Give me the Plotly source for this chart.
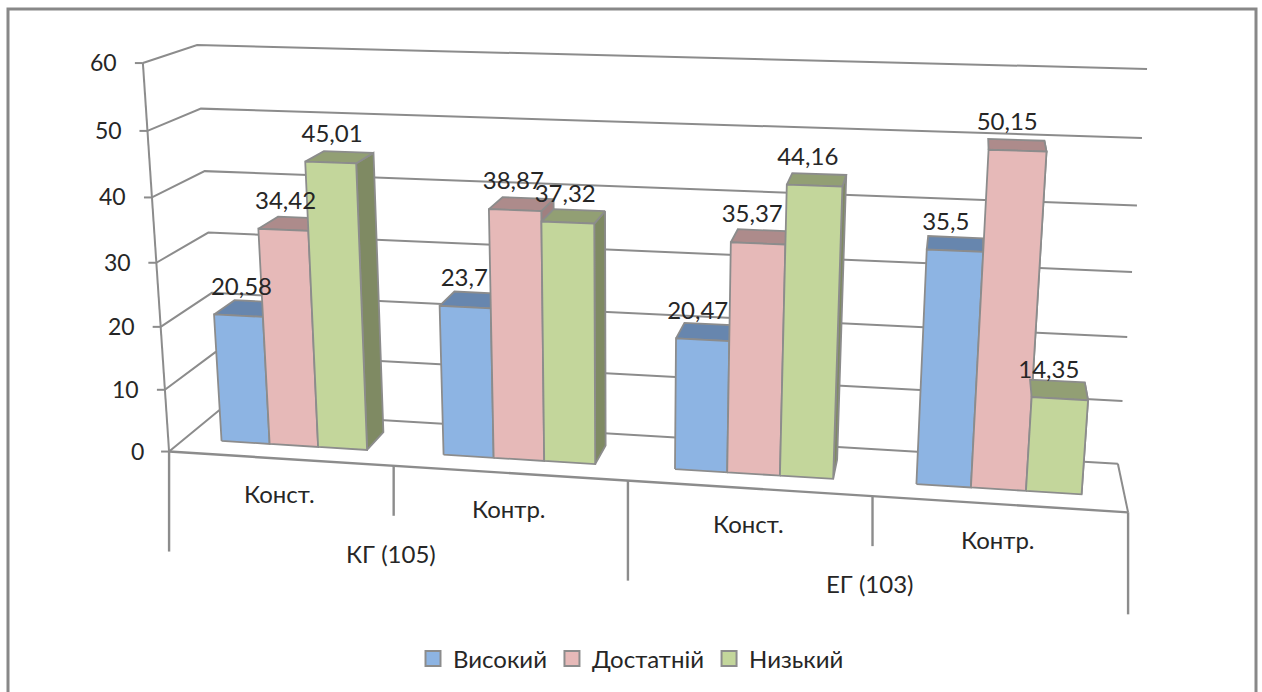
import numpy as np
import plotly.graph_objects as go

# Chart data
group_labels = ["КГ (105)", "ЕГ (103)"]
category_labels = ["Конст.", "Контр.", "Конст.", "Контр."]
series_names = ["Високий", "Достатній", "Низький"]
vysokyi = [20.58, 23.7, 20.47, 35.5]
dostatnii = [34.42, 38.87, 35.37, 50.15]
nyzkyi = [45.01, 37.32, 44.16, 14.35]
value_ticks = [0, 10, 20, 30, 40, 50, 60]

series_values = [vysokyi, dostatnii, nyzkyi]
front_colors = ["#8DB4E3", "#E6B9B8", "#C3D69B"]
top_colors = ["#6786AE", "#AD8B8B", "#929F74"]
side_colors = ["#5F7BA0", "#A08080", "#7F8A63"]
edge_color = "#8C8C8C"
grid_color = "#8C8C8C"
text_color = "#262626"
font_family = "Lato"
font_size = 24

# Camera: a projective map from (category, value, depth) to page pixels,
# solved from where the corners of the plot box land on the page.
box_corners = [
    ((0, 0, 0), (170, 451)), ((4, 0, 0), (1128, 513)),
    ((0, 0, 1), (218, 411)), ((4, 0, 1), (1118, 463)),
    ((0, 60, 0), (142, 63)), ((0, 60, 1), (198, 45)),
    ((4, 60, 1), (1147, 69)),
]


def solve_camera(pairs):
    rows, rhs = [], []
    for (a, b, c), (u, v) in pairs:
        rows.append([a, b, c, 1, 0, 0, 0, 0, -u * a, -u * b, -u * c])
        rows.append([0, 0, 0, 0, a, b, c, 1, -v * a, -v * b, -v * c])
        rhs += [u, v]
    sol = np.linalg.lstsq(np.array(rows, float), np.array(rhs, float), rcond=None)[0]
    return np.append(sol, 1.0).reshape(3, 4)


CAMERA = solve_camera(box_corners)


def project(points):
    pts = np.column_stack([np.asarray(points, float), np.ones(len(points))])
    out = pts @ CAMERA.T
    return out[:, 0] / out[:, 2], out[:, 1] / out[:, 2]


fig = go.Figure()


def add_line(points, width=2, color=grid_color):
    x, y = project(points)
    fig.add_trace(go.Scatter(x=x, y=y, mode="lines", hoverinfo="skip", showlegend=False,
                             line=dict(color=color, width=width)))


def add_face(points, fill):
    x, y = project(points + points[:1])
    fig.add_trace(go.Scatter(x=x, y=y, mode="lines", fill="toself", fillcolor=fill,
                             hoverinfo="skip", showlegend=False,
                             line=dict(color=edge_color, width=1.8)))


# Gridlines on the side wall and the back wall, plus the box edges
for v in value_ticks:
    add_line([(0, v, 0), (0, v, 1), (4, v, 1)])
add_line([(4, 0, 1), (4, 0, 0)])
add_line([(0, 0, 0), (0, 60, 0)])
add_line([(0, 0, 0), (4, 0, 0)], width=2.4)

# Value axis tick marks and labels
annotations = []
for v in value_ticks:
    px, py = project([(0, v, 0)])
    fig.add_trace(go.Scatter(x=[px[0] - 8, px[0]], y=[py[0], py[0]], mode="lines",
                             hoverinfo="skip", showlegend=False,
                             line=dict(color=grid_color, width=2)))
    annotations.append(dict(x=px[0] - 23.5, y=py[0] - 1, text=str(v), xanchor="right", yanchor="middle",
                            font_size=23))

# Category axis: hanging dividers and the two label levels
divider_drop = {0: 100, 1: 50, 2: 100, 3: 50, 4: 102}
for i, drop in divider_drop.items():
    px, py = project([(i, 0, 0)])
    fig.add_trace(go.Scatter(x=[px[0], px[0]], y=[py[0], py[0] + drop], mode="lines",
                             hoverinfo="skip", showlegend=False,
                             line=dict(color=grid_color, width=2.4)))
for i, label in enumerate(category_labels):
    a, b = project([(i, 0, 0), (i + 1, 0, 0)])
    annotations.append(dict(x=(a[0] + a[1]) / 2 - 2, y=(b[0] + b[1]) / 2 + 35, text=label,
                            xanchor="center", yanchor="middle"))
for i, label in enumerate(group_labels):
    a, b = project([(2 * i, 0, 0), (2 * i + 2, 0, 0)])
    annotations.append(dict(x=(a[0] + a[1]) / 2 - 8, y=(b[0] + b[1]) / 2 + 87, text=label,
                            xanchor="center", yanchor="middle"))

# Bars: right side, top and front of each column, painted left to right
gap_x = 0.17
bar_w = (1 - 2 * gap_x) / 3
z0, z1 = 0.30, 0.72
label_x, label_y, label_text = [], [], []
for c in range(len(category_labels)):
    for s, values in enumerate(series_values):
        v = values[c]
        x0 = c + gap_x + s * bar_w
        x1 = x0 + bar_w
        add_face([(x1, 0, z0), (x1, 0, z1), (x1, v, z1), (x1, v, z0)], side_colors[s])
        add_face([(x0, v, z0), (x1, v, z0), (x1, v, z1), (x0, v, z1)], top_colors[s])
        add_face([(x0, 0, z0), (x1, 0, z0), (x1, v, z0), (x0, v, z0)], front_colors[s])
        px, py = project([((x0 + x1) / 2, v, z0)])
        # Value labels drift inwards across the chart, towards the vanishing side
        label_x.append(px[0] - 1 + 4 - (px[0] - 240) * 0.017)
        label_y.append(py[0] - 15)
        label_text.append(f"{v:g}".replace(".", ","))

fig.add_trace(go.Scatter(x=label_x, y=label_y, mode="text", text=label_text,
                         textposition="top center", hoverinfo="skip", showlegend=False,
                         textfont=dict(family=font_family, size=font_size, color=text_color)))

# Legend entries
for name, color in zip(series_names, front_colors):
    fig.add_trace(go.Scatter(x=[None], y=[None], mode="markers", name=name,
                             marker=dict(symbol="square", size=15, color=color,
                                         line=dict(color=edge_color, width=2))))

for a in annotations:
    size = a.pop("font_size", font_size)
    a.update(xref="x", yref="y", showarrow=False,
             font=dict(family=font_family, size=size, color=text_color))

fig.update_layout(
    width=1262, height=692, margin=dict(l=0, r=0, t=0, b=0),
    paper_bgcolor="white", plot_bgcolor="white",
    xaxis=dict(visible=False, range=[0, 1262], fixedrange=True),
    yaxis=dict(visible=False, range=[692, 0], fixedrange=True),
    annotations=annotations,
    legend=dict(orientation="h", x=0.5, xanchor="center", y=1 - 659 / 692, yanchor="middle",
                font=dict(family=font_family, size=font_size, color=text_color), bgcolor="rgba(0,0,0,0)"),
    shapes=[dict(type="rect", xref="x", yref="y", x0=8, y0=9, x1=1256, y1=720,
                 line=dict(color="#888888", width=3), layer="below")],
)

fig.write_html("out.html")
